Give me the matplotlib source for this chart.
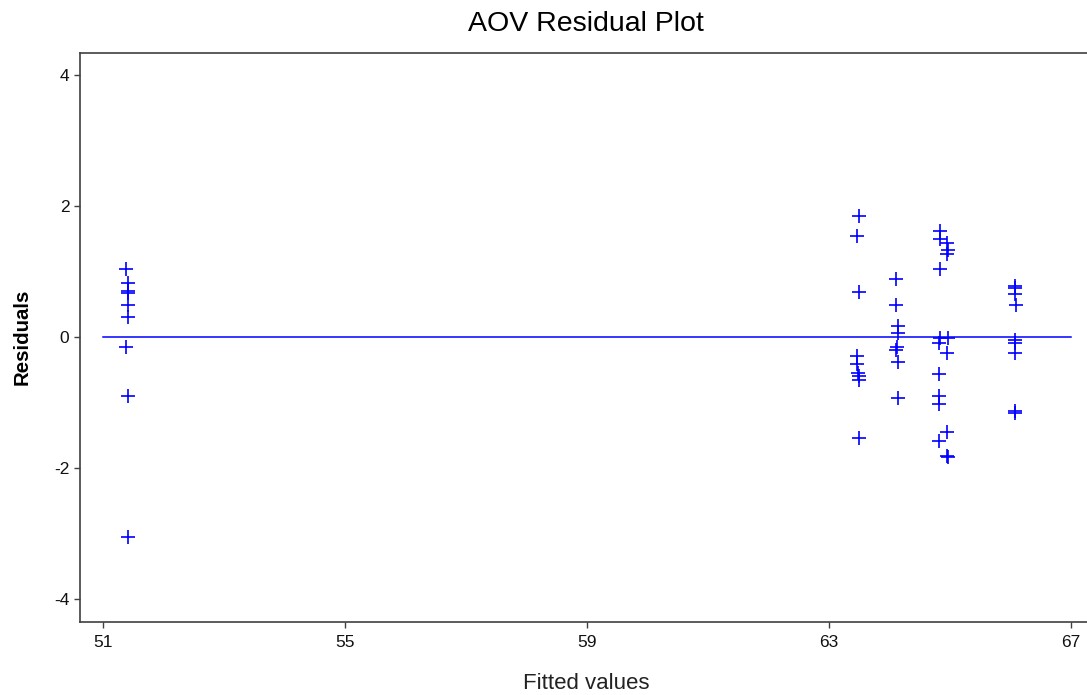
import numpy as np
import matplotlib
matplotlib.use("Agg")
import matplotlib.pyplot as plt

plt.rcParams['font.family'] = ['Liberation Sans', 'DejaVu Sans']
plt.rcParams['axes.unicode_minus'] = False

# fitted values and residuals, per group
fit_g1 = [51.39, 51.42, 51.42, 51.42, 51.42, 51.42, 51.39, 51.42, 51.42]
res_g1 = [1.03, 0.82, 0.70, 0.67, 0.49, 0.31, -0.15, -0.90, -3.05]

fit_g2 = [63.49, 63.47, 63.49, 63.47, 63.47, 63.48, 63.49, 63.49, 63.49]
res_g2 = [1.85, 1.54, 0.69, -0.30, -0.42, -0.55, -0.60, -0.66, -1.55]

fit_g3 = [64.11, 64.11, 64.14, 64.14, 64.12, 64.10, 64.14, 64.14]
res_g3 = [0.89, 0.49, 0.16, 0.06, -0.16, -0.20, -0.38, -0.94]

fit_g4 = [64.83, 64.84, 64.95, 64.96, 64.95, 64.83, 64.83, 64.96, 64.82, 64.95,
          64.82, 64.82, 64.82, 64.95, 64.82, 64.95, 64.96]
res_g4 = [1.61, 1.49, 1.43, 1.32, 1.27, 1.03, -0.02, -0.01, -0.10, -0.25,
          -0.56, -0.91, -1.03, -1.46, -1.59, -1.82, -1.84]

fit_g5 = [66.07, 66.08, 66.07, 66.09, 66.07, 66.08, 66.07, 66.07, 66.08]
res_g5 = [0.77, 0.75, 0.65, 0.49, -0.05, -0.09, -0.24, -1.13, -1.16]

fitted = fit_g1 + fit_g2 + fit_g3 + fit_g4 + fit_g5
resid = res_g1 + res_g2 + res_g3 + res_g4 + res_g5

xticks = [51, 55, 59, 63, 67]
yticks = [-4, -2, 0, 2, 4]

fig = plt.figure(figsize=(10.87, 6.95), dpi=100)
ax = fig.add_axes([0.0733, 0.1055, 0.9267, 0.8187])

ax.plot(fitted, resid, linestyle='none', marker='+', color='#0000ff',
        markersize=9.5, markeredgewidth=1.2)
ax.plot([xticks[0], xticks[-1]], [0, 0], color='#0000ff', linewidth=1.1)

ax.set_xlim(50.62, 67.264)
ax.set_ylim(-4.35, 4.34)
ax.set_xticks(xticks)
ax.set_yticks(yticks)
ax.tick_params(direction='out', length=4.5, width=1, colors='#404040',
               labelcolor='#111111', labelsize=12.5, pad=3)
ax.tick_params(axis='x', pad=5)
ax.spines['right'].set_visible(False)
for s in ['left', 'bottom', 'top']:
    ax.spines[s].set_color('#404040')
    ax.spines[s].set_linewidth(1.2)

fig.text(0.5387, 0.965, 'AOV Residual Plot', ha='center', va='center', fontsize=20.5)
fig.text(0.539, 0.016, 'Fitted values', ha='center', va='center', fontsize=16,
         color='#222222')
fig.text(0.02, 0.515, 'Residuals', ha='center', va='center', rotation=90,
         fontsize=14.7, fontweight='bold')

fig.savefig('out.png', dpi=100)
